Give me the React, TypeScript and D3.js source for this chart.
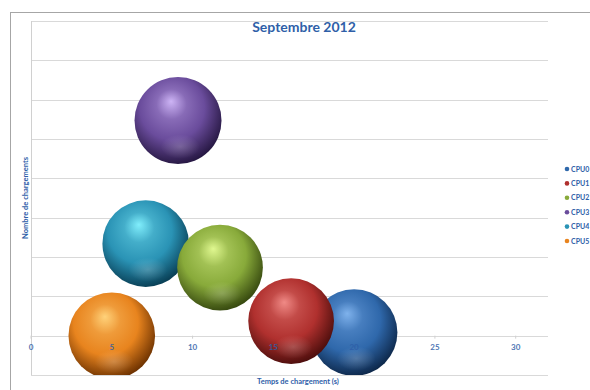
import React from "react";
import * as d3 from "d3";

const series = ["CPU0", "CPU1", "CPU2", "CPU3", "CPU4", "CPU5"];
const loadTimes = [20.0, 16.1, 11.7, 9.1, 7.1, 5.0];
const loadCounts = [0.8, 3.7, 17.3, 54.7, 23.4, 0];
const bubbleSizes = [10.2, 10.0, 10.0, 10.3, 10.2, 10.2];
const xTicks = [0, 5, 10, 15, 20, 25, 30];
const yGrid = [-10, 0, 10, 20, 30, 40, 50, 60, 70, 80];
const baseColors = ["#2f68ab", "#b0302e", "#88aa3a", "#6a4c9c", "#2a93b5", "#e8841e"];
const lightColors = ["#7fb2ec", "#f08a86", "#e0f890", "#cdb4f5", "#80eefc", "#ffd27a"];
const darkColors = ["#0c2648", "#4a0d0c", "#34460e", "#241640", "#083c52", "#6a3000"];

const W = 590;
const H = 390;
const plot = { left: 31, right: 548, top: 21, bottom: 375 };
const blue = "#2e5ea8";
const font = "Lato, 'Open Sans', sans-serif";

export default function App() {
  const x = d3.scaleLinear().domain([0, 32]).range([plot.left, plot.right]);
  const y = d3.scaleLinear().domain([-10, 80]).range([plot.bottom, plot.top]);
  const r = d3.scaleSqrt().domain([0, d3.max(bubbleSizes) as number]).range([0, 43.5]);

  const order = d3.range(series.length).sort((a, b) => bubbleSizes[b] - bubbleSizes[a]);

  return (
    <svg width={W} height={H} style={{ position: "absolute", left: 0, top: 0 }}>
      <defs>
        {series.map((s, i) => (
          <radialGradient key={s} id={`g${i}`} cx="44%" cy="40%" r="62%" fx="42%" fy="28%">
            <stop offset="0%" stopColor={lightColors[i]} />
            <stop offset="28%" stopColor={d3.interpolateRgb(lightColors[i], baseColors[i])(0.7)} />
            <stop offset="60%" stopColor={baseColors[i]} />
            <stop offset="82%" stopColor={d3.interpolateRgb(baseColors[i], darkColors[i])(0.55)} />
            <stop offset="100%" stopColor={darkColors[i]} />
          </radialGradient>
        ))}
        <radialGradient id="refl" cx="50%" cy="50%" r="50%">
          <stop offset="0%" stopColor="#ffffff" stopOpacity={0.2} />
          <stop offset="100%" stopColor="#ffffff" stopOpacity={0} />
        </radialGradient>
        <clipPath id="plotclip">
          <rect x={plot.left} y={plot.top} width={plot.right - plot.left} height={plot.bottom - plot.top} />
        </clipPath>
      </defs>
      <rect x={0} y={0} width={W} height={H} fill="#ffffff" />
      <line x1={10} x2={W} y1={12.5} y2={12.5} stroke="#a6a6a6" strokeWidth={1} />
      <line x1={10.5} x2={10.5} y1={12} y2={H} stroke="#a6a6a6" strokeWidth={1} />

      {yGrid.map((v) => (
        <line key={v} x1={plot.left} x2={plot.right} y1={Math.round(y(v)) + 0.5} y2={Math.round(y(v)) + 0.5}
          stroke="#d9d9d9" strokeWidth={1} />
      ))}
      <line x1={plot.left + 0.5} x2={plot.left + 0.5} y1={plot.top} y2={plot.bottom} stroke="#d0d0d0" strokeWidth={1} />
      {xTicks.map((t) => (
        <line key={t} x1={x(t)} x2={x(t)} y1={y(0)} y2={y(0) + 3} stroke="#d0d0d0" />
      ))}

      <g clipPath="url(#plotclip)">
        {order.map((i) => {
          const cx = x(loadTimes[i]);
          const cy = y(loadCounts[i]);
          const rad = r(bubbleSizes[i]);
          return (
            <g key={series[i]}>
              <circle cx={cx} cy={cy} r={rad} fill={`url(#g${i})`} />
              <ellipse cx={cx + rad * 0.05} cy={cy + rad * 0.6} rx={rad * 0.45} ry={rad * 0.28} fill="url(#refl)" />
            </g>
          );
        })}
      </g>

      {xTicks.map((t) => (
        <text key={t} x={x(t)} y={y(0) + 14} textAnchor="middle" fontFamily={font} fontWeight="bold"
          fontSize={8} fill={blue} opacity={0.85}>
          {t}
        </text>
      ))}

      <text x={304} y={32} textAnchor="middle" fontFamily={font} fontWeight="bold" fontSize={14} fill="#2f5fa8">
        Septembre 2012
      </text>

      <text x={298} y={384} textAnchor="middle" fontFamily={font} fontWeight="bold" fontSize={7.5} fill={blue}>
        Temps de chargement (s)
      </text>
      <text transform={`translate(28,198) rotate(-90)`} textAnchor="middle" fontFamily={font} fontWeight="bold"
        fontSize={7.5} fill={blue}>
        Nombre de chargements
      </text>

      {series.map((s, i) => {
        const ly = 169 + i * 14.4;
        return (
          <g key={s}>
            <circle cx={567} cy={ly} r={2.3} fill={baseColors[i]} />
            <text x={571} y={ly + 2.6} fontFamily={font} fontWeight="bold" fontSize={7} fill={blue}>
              {s}
            </text>
          </g>
        );
      })}
    </svg>
  );
}
